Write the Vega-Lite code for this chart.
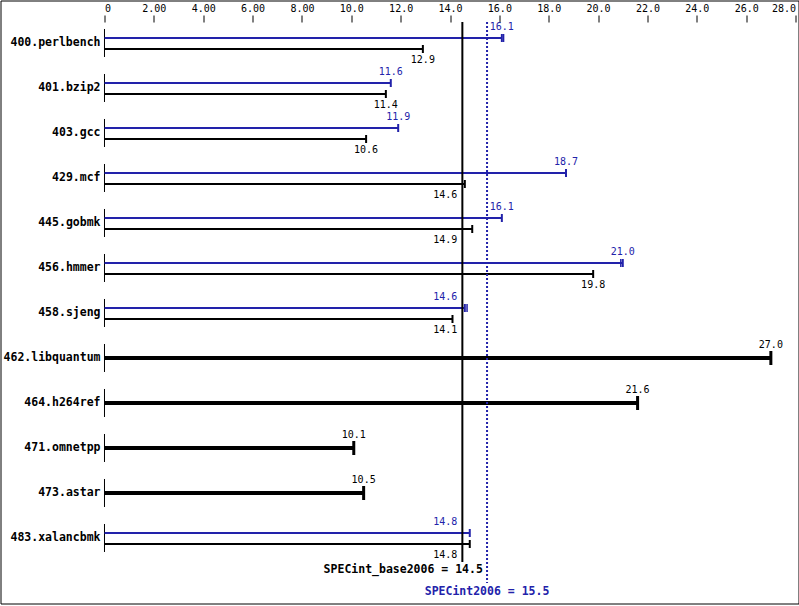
{
  "$schema": "https://vega.github.io/schema/vega-lite/v6.json",
  "width": 798,
  "height": 603,
  "padding": {"left": 0.5, "top": 0.5, "right": 0.5, "bottom": 2.5},
  "autosize": {"type": "none"},
  "background": "white",
  "config": {
    "view": {"stroke": "black", "strokeWidth": 1}
  },
  "datasets": {
    "results": [
      {"row": 0, "bench": "400.perlbench", "base": 12.9, "peak": 16.1, "peak_run": 16.17},
      {"row": 1, "bench": "401.bzip2", "base": 11.4, "peak": 11.6},
      {"row": 2, "bench": "403.gcc", "base": 10.6, "peak": 11.9},
      {"row": 3, "bench": "429.mcf", "base": 14.6, "peak": 18.7},
      {"row": 4, "bench": "445.gobmk", "base": 14.9, "peak": 16.1},
      {"row": 5, "bench": "456.hmmer", "base": 19.8, "peak": 21.0, "peak_run": 20.92},
      {"row": 6, "bench": "458.sjeng", "base": 14.1, "peak": 14.6, "peak_run": 14.69},
      {"row": 7, "bench": "462.libquantum", "base": 27.0, "peak": null},
      {"row": 8, "bench": "464.h264ref", "base": 21.6, "peak": null},
      {"row": 9, "bench": "471.omnetpp", "base": 10.1, "peak": null},
      {"row": 10, "bench": "473.astar", "base": 10.5, "peak": null},
      {"row": 11, "bench": "483.xalancbmk", "base": 14.8, "peak": 14.8}
    ],
    "summary": [
      {"metric": "SPECint_base2006", "value": 14.5, "label": "SPECint_base2006 = 14.5"},
      {"metric": "SPECint2006", "value": 15.5, "label": "SPECint2006 = 15.5"}
    ]
  },
  "data": {"name": "results"},
  "layer": [
    {
      "mark": {"type": "rule", "yOffset": -14, "y2Offset": 14, "color": "black", "strokeWidth": 1},
      "encoding": {
        "x": {
          "datum": 0, "type": "quantitative",
          "scale": {"domain": [-4.2139, 28.1199], "nice": false, "zero": false, "padding": 0},
          "axis": {
            "orient": "top", "offset": -21.5,
            "values": [0, 0.5, 1, 1.5, 2, 2.5, 3, 3.5, 4, 4.5, 5, 5.5, 6, 6.5, 7, 7.5, 8, 8.5, 9, 9.5, 10, 10.5, 11, 11.5, 12, 12.5, 13, 13.5, 14, 14.5, 15, 15.5, 16, 16.5, 17, 17.5, 18, 18.5, 19, 19.5, 20, 20.5, 21, 21.5, 22, 22.5, 23, 23.5, 24, 24.5, 25, 25.5, 26, 26.5, 27, 27.5, 28],
            "tickSize": {"condition": {"test": "datum.value % 2 == 0", "value": 7}, "value": 4},
            "tickColor": "black", "tickWidth": 1, "domain": false, "grid": false,
            "labelFont": "DejaVu Sans Mono", "labelFontSize": 10, "labelColor": "black", "labelPadding": 2,
            "labelFlush": false, "labelOverlap": false, "labelBound": false,
            "labelAlign": {"condition": [{"test": "datum.value == 0", "value": "left"}, {"test": "datum.value == 28", "value": "right"}], "value": "center"},
            "labelExpr": "datum.value % 2 != 0 ? '' : (datum.value == 0 ? '0' : (datum.value < 10 ? format(datum.value, '.2f') : format(datum.value, '.1f')))",
            "title": null
          }
        },
        "y": {
          "field": "row", "type": "quantitative", "axis": null,
          "scale": {"domain": [-0.9444, 12.4556], "nice": false, "zero": false, "reverse": true, "padding": 0}
        },
        "y2": {"field": "row"}
      }
    },
    {
      "mark": {"type": "text", "dx": -4, "align": "right", "baseline": "middle", "font": "DejaVu Sans Mono", "fontWeight": "bold", "fontSize": 11.5, "color": "black"},
      "encoding": {
        "x": {"datum": 0, "type": "quantitative"},
        "y": {"field": "row", "type": "quantitative"},
        "text": {"field": "bench", "type": "nominal"}
      }
    },
    {
      "transform": [{"filter": "datum.peak != null"}],
      "mark": {"type": "bar", "orient": "horizontal", "height": 2, "yOffset": -5, "color": "#2222aa"},
      "encoding": {
        "x": {"field": "peak", "type": "quantitative"},
        "y": {"field": "row", "type": "quantitative"}
      }
    },
    {
      "transform": [{"filter": "datum.peak != null"}],
      "mark": {"type": "bar", "orient": "horizontal", "height": 2, "yOffset": 6, "color": "black"},
      "encoding": {
        "x": {"field": "base", "type": "quantitative"},
        "y": {"field": "row", "type": "quantitative"}
      }
    },
    {
      "transform": [{"filter": "datum.peak == null"}],
      "mark": {"type": "bar", "orient": "horizontal", "height": 4, "color": "black"},
      "encoding": {
        "x": {"field": "base", "type": "quantitative"},
        "y": {"field": "row", "type": "quantitative"}
      }
    },
    {
      "transform": [{"filter": "datum.peak != null"}],
      "mark": {"type": "rule", "yOffset": -9, "y2Offset": -1, "color": "#2222aa", "strokeWidth": 2},
      "encoding": {
        "x": {"field": "peak", "type": "quantitative"},
        "y": {"field": "row", "type": "quantitative"},
        "y2": {"field": "row"}
      }
    },
    {
      "transform": [{"filter": "isValid(datum.peak_run)"}],
      "mark": {"type": "rule", "yOffset": -9, "y2Offset": -1, "color": "#2222aa", "strokeWidth": 1.5},
      "encoding": {
        "x": {"field": "peak_run", "type": "quantitative"},
        "y": {"field": "row", "type": "quantitative"},
        "y2": {"field": "row"}
      }
    },
    {
      "transform": [{"filter": "datum.peak != null"}],
      "mark": {"type": "rule", "yOffset": 2, "y2Offset": 10, "color": "black", "strokeWidth": 2},
      "encoding": {
        "x": {"field": "base", "type": "quantitative"},
        "y": {"field": "row", "type": "quantitative"},
        "y2": {"field": "row"}
      }
    },
    {
      "transform": [{"filter": "datum.peak == null"}],
      "mark": {"type": "rule", "yOffset": -7, "y2Offset": 7, "color": "black", "strokeWidth": 3},
      "encoding": {
        "x": {"field": "base", "type": "quantitative"},
        "y": {"field": "row", "type": "quantitative"},
        "y2": {"field": "row"}
      }
    },
    {
      "data": {"name": "summary"},
      "transform": [{"filter": "datum.metric == 'SPECint_base2006'"}],
      "mark": {"type": "rule", "yOffset": -21, "y2Offset": 24, "color": "black", "strokeWidth": 2},
      "encoding": {
        "x": {"field": "value", "type": "quantitative"},
        "y": {"datum": 0, "type": "quantitative"},
        "y2": {"datum": 11}
      }
    },
    {
      "data": {"name": "summary"},
      "transform": [{"filter": "datum.metric == 'SPECint2006'"}],
      "mark": {"type": "rule", "yOffset": -21, "y2Offset": 45, "color": "#2222aa", "strokeWidth": 2, "strokeDash": [2, 2]},
      "encoding": {
        "x": {"field": "value", "type": "quantitative"},
        "y": {"datum": 0, "type": "quantitative"},
        "y2": {"datum": 11}
      }
    },
    {
      "transform": [{"filter": "datum.peak != null && abs(datum.peak - 14.5) >= 0.6"}],
      "mark": {"type": "text", "dy": -15.5, "align": "center", "baseline": "middle", "font": "DejaVu Sans Mono", "fontSize": 10, "color": "#2222aa"},
      "encoding": {
        "x": {"field": "peak", "type": "quantitative"},
        "y": {"field": "row", "type": "quantitative"},
        "text": {"field": "peak", "type": "quantitative", "format": ".1f"}
      }
    },
    {
      "transform": [{"filter": "datum.peak != null && abs(datum.peak - 14.5) < 0.6"}],
      "mark": {"type": "text", "dy": -15.5, "dx": -5, "align": "right", "baseline": "middle", "font": "DejaVu Sans Mono", "fontSize": 10, "color": "#2222aa"},
      "encoding": {
        "x": {"datum": 14.5, "type": "quantitative"},
        "y": {"field": "row", "type": "quantitative"},
        "text": {"field": "peak", "type": "quantitative", "format": ".1f"}
      }
    },
    {
      "transform": [{"filter": "datum.peak != null && abs(datum.base - 14.5) >= 0.6"}],
      "mark": {"type": "text", "dy": 17.5, "align": "center", "baseline": "middle", "font": "DejaVu Sans Mono", "fontSize": 10, "color": "black"},
      "encoding": {
        "x": {"field": "base", "type": "quantitative"},
        "y": {"field": "row", "type": "quantitative"},
        "text": {"field": "base", "type": "quantitative", "format": ".1f"}
      }
    },
    {
      "transform": [{"filter": "datum.peak != null && abs(datum.base - 14.5) < 0.6"}],
      "mark": {"type": "text", "dy": 17.5, "dx": -5, "align": "right", "baseline": "middle", "font": "DejaVu Sans Mono", "fontSize": 10, "color": "black"},
      "encoding": {
        "x": {"datum": 14.5, "type": "quantitative"},
        "y": {"field": "row", "type": "quantitative"},
        "text": {"field": "base", "type": "quantitative", "format": ".1f"}
      }
    },
    {
      "transform": [{"filter": "datum.peak == null"}],
      "mark": {"type": "text", "dy": -13, "align": "center", "baseline": "middle", "font": "DejaVu Sans Mono", "fontSize": 10, "color": "black"},
      "encoding": {
        "x": {"field": "base", "type": "quantitative"},
        "y": {"field": "row", "type": "quantitative"},
        "text": {"field": "base", "type": "quantitative", "format": ".1f"}
      }
    },
    {
      "data": {"name": "summary"},
      "transform": [{"filter": "datum.metric == 'SPECint_base2006'"}],
      "mark": {"type": "text", "dy": 32, "dx": 20.5, "align": "right", "baseline": "middle", "font": "DejaVu Sans Mono", "fontWeight": "bold", "fontSize": 11.5, "color": "black"},
      "encoding": {
        "x": {"field": "value", "type": "quantitative"},
        "y": {"datum": 11, "type": "quantitative"},
        "text": {"field": "label", "type": "nominal"}
      }
    },
    {
      "data": {"name": "summary"},
      "transform": [{"filter": "datum.metric == 'SPECint2006'"}],
      "mark": {"type": "text", "dy": 54, "align": "center", "baseline": "middle", "font": "DejaVu Sans Mono", "fontWeight": "bold", "fontSize": 11.5, "color": "#2222aa"},
      "encoding": {
        "x": {"field": "value", "type": "quantitative"},
        "y": {"datum": 11, "type": "quantitative"},
        "text": {"field": "label", "type": "nominal"}
      }
    }
  ]
}
